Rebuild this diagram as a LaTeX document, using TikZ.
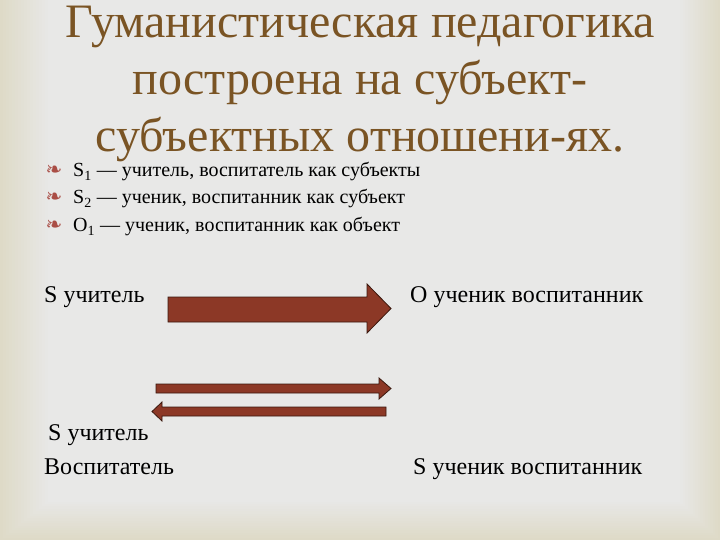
\documentclass[tikz,border=0pt]{standalone}
\usepackage{fontspec}
\setmainfont{Liberation Serif}
\newfontfamily\symfont{DejaVu Sans}
\usepackage{tikz}
\usetikzlibrary{positioning}
\definecolor{titlebrown}{RGB}{122,84,36}
\definecolor{arrowfill}{RGB}{140,56,38}
\definecolor{arrowline}{RGB}{58,24,14}
\definecolor{bulletred}{RGB}{170,78,70}
\definecolor{bandA}{RGB}{222,218,199}
\definecolor{slidegray}{RGB}{232,232,231}
\tikzstyle{blockarrow} = [fill=arrowfill, draw=arrowline, line width=0.8pt]
\tikzstyle{titletext} = [anchor=base, inner sep=0pt, text=titlebrown, font=\fontsize{48}{48}\selectfont]
\tikzstyle{itemtext} = [anchor=base west, inner sep=0pt, font=\fontsize{20}{20}\selectfont]
\tikzstyle{bulletmark} = [anchor=base, inner sep=0pt, text=bulletred, font=\symfont\fontsize{20}{20}\selectfont]
\tikzstyle{labeltext} = [anchor=base west, inner sep=0pt, font=\fontsize{24}{24}\selectfont]

\begin{document}
\begin{tikzpicture}[yscale=-1]
			\useasboundingbox (0pt,0pt) rectangle (720pt,540pt);
			% slide frame, beige towards the edges
			\foreach \i in {0,...,16}{
				\pgfmathsetmacro{\mix}{100-\i*6.25}
				\fill[bandA!\mix!slidegray] (3pt*\i,0pt) rectangle (720pt-2.5pt*\i,540pt-2.4pt*\i);
			}
			\node[titletext] (title1) at (360pt,38pt) {Гуманистическая педагогика};
			\node[titletext] (title2) at (360pt,95pt) {построена на субъект-};
			\node[titletext] (title3) at (360pt,152pt) {субъектных отношени-ях.};
			\node[bulletmark] (mark1) at (54pt,177pt) {❧};
			\node[itemtext] (item1) at (73pt,177pt) {S\textsubscript{1} — учитель, воспитатель как субъекты};
			\node[bulletmark] (mark2) at (54pt,204pt) {❧};
			\node[itemtext] (item2) at (73pt,204pt) {S\textsubscript{2} — ученик, воспитанник как субъект};
			\node[bulletmark] (mark3) at (54pt,232pt) {❧};
			\node[itemtext] (item3) at (73pt,232pt) {O\textsubscript{1} — ученик, воспитанник как объект};
			\node[labeltext] (teacher) at (44pt,302pt) {S учитель};
			\node[labeltext] (pupilobj) at (410pt,302pt) {О ученик воспитанник};
			\node[labeltext] (teacher2) at (48pt,440pt) {S учитель};
			\node[labeltext] (educator) at (44pt,474pt) {Воспитатель};
			\node[labeltext] (pupilsubj) at (413pt,474pt) {S ученик воспитанник};
			% block arrows
			\draw[blockarrow] (168pt,297pt) -- (367pt,297pt) -- (367pt,284pt) -- (391pt,308.5pt) -- (367pt,333pt) -- (367pt,322pt) -- (168pt,322pt) -- cycle;
			\draw[blockarrow] (156pt,384pt) -- (379pt,384pt) -- (379pt,378pt) -- (391pt,388.5pt) -- (379pt,399pt) -- (379pt,393pt) -- (156pt,393pt) -- cycle;
			\draw[blockarrow] (386pt,407pt) -- (162pt,407pt) -- (162pt,402pt) -- (152pt,411.5pt) -- (162pt,421pt) -- (162pt,416pt) -- (386pt,416pt) -- cycle;
		\end{tikzpicture}
\end{document}
